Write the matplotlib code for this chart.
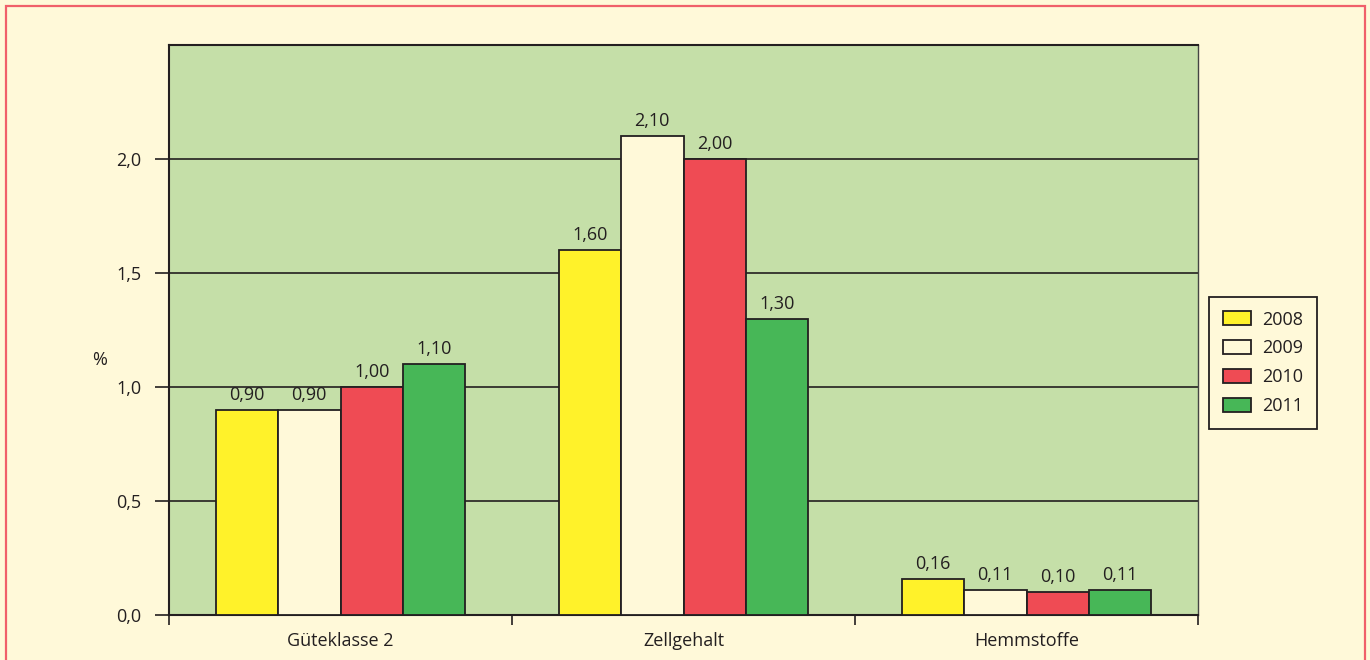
import matplotlib.pyplot as plt
import matplotlib.patches as patches
import numpy as np

plt.rcParams['font.family'] = ['Open Sans', 'DejaVu Sans']

# Werte in %
categories = ['Güteklasse 2', 'Zellgehalt', 'Hemmstoffe']
years = ['2008', '2009', '2010', '2011']
v2008 = [0.90, 1.60, 0.16]
v2009 = [0.90, 2.10, 0.11]
v2010 = [1.00, 2.00, 0.10]
v2011 = [1.10, 1.30, 0.11]
series = [v2008, v2009, v2010, v2011]
yticks = [0.0, 0.5, 1.0, 1.5, 2.0]

bg = '#FFF9D9'
plot_bg = '#C5DFA8'
colors = ['#FFF22A', bg, '#EF4B54', '#47B757']
text_col = '#231F20'
fs = 13

fig = plt.figure(figsize=(13.7, 6.6), dpi=100, facecolor=bg)
ax = fig.add_axes([169/1370, 1 - 615/660, (1198-169)/1370, (615-45)/660])
ax.set_facecolor(plot_bg)

# rosa Rahmen um die ganze Grafik
fig.patches.append(patches.Rectangle((6/1370, -0.05), (1365-6)/1370, 1.05 - 6/660,
                                     transform=fig.transFigure, fill=False,
                                     edgecolor='#F0606A', linewidth=1.6))

x = np.arange(len(categories))
w = 0.182
for i, (vals, col, yr) in enumerate(zip(series, colors, years)):
    pos = x + (i - 1.5) * w
    ax.bar(pos, vals, w, color=col, edgecolor=text_col, linewidth=1.3,
           label=yr, zorder=3)
    for px, v in zip(pos, vals):
        ax.text(px, v + 0.025, f'{v:.2f}'.replace('.', ','), ha='center',
                va='bottom', fontsize=fs, color=text_col, zorder=4)

ax.set_xlim(-0.5, 2.5)
ax.set_ylim(0, 2.5)

for yv in yticks[1:]:
    ax.axhline(yv, color=text_col, linewidth=1.2, zorder=1)

ax.set_yticks(yticks)
ax.set_yticklabels([f'{t:.1f}'.replace('.', ',') for t in yticks],
                   fontsize=fs, color=text_col)
ax.tick_params(axis='y', direction='out', length=10, width=1.2, color=text_col, pad=10)

ax.set_xticks([-0.5, 0.5, 1.5, 2.5])
ax.set_xticklabels([])
ax.set_xticks(x, minor=True)
ax.set_xticklabels(categories, minor=True, fontsize=fs, color=text_col)
ax.tick_params(axis='x', which='major', direction='out', length=7, width=1.2,
               color=text_col)
ax.tick_params(axis='x', which='minor', length=0, pad=12)

for s in ax.spines.values():
    s.set_color(text_col)
    s.set_linewidth(1.5)
ax.spines['right'].set_linewidth(1.0)
ax.spines['right'].set_color('#444444')

fig.text(100/1370, 1 - 360/660, '%', fontsize=fs, color=text_col,
         ha='center', va='center')

leg = ax.legend(loc='upper left', bbox_to_anchor=(1209/1370, 1 - 297/660),
                bbox_transform=fig.transFigure, frameon=True, fancybox=False,
                fontsize=fs, handlelength=1.6, handleheight=0.85,
                labelspacing=0.6, borderpad=0.75, handletextpad=0.6,
                borderaxespad=0)
leg.get_frame().set_facecolor(bg)
leg.get_frame().set_edgecolor(text_col)
leg.get_frame().set_linewidth(1.3)
leg.get_frame().set_alpha(1)
for t in leg.get_texts():
    t.set_color(text_col)

fig.savefig('out.png', dpi=100, facecolor=bg)
